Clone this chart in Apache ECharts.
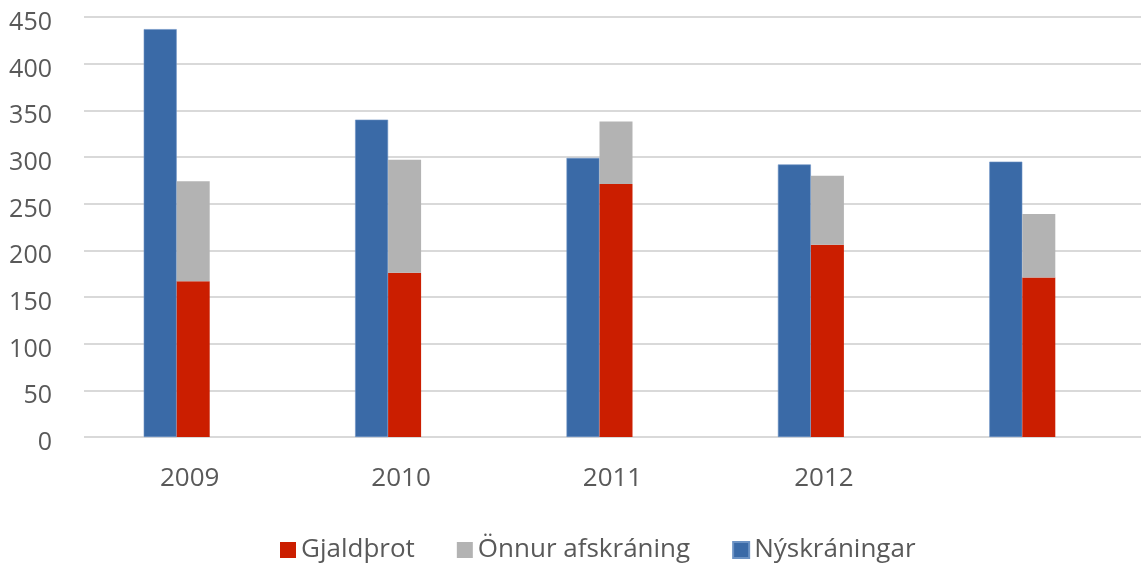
<!DOCTYPE html>
<html><head><meta charset="utf-8">
<script src="https://cdn.jsdelivr.net/npm/echarts@6/dist/echarts.min.js"></script>
<style>html,body{margin:0;padding:0;background:#fff}#c{width:1141px;height:565px}</style>
</head><body><div id="c"></div>
<script>
const categories = ['2009', '2010', '2011', '2012', ''];
const gjaldthrot = [167, 176, 271, 206, 171];
const onnur = [107, 121, 67, 74, 68];
const nyskraningar = [437, 340, 299, 292, 295];
const yTicks = [0, 50, 100, 150, 200, 250, 300, 350, 400, 450];

const chart = echarts.init(document.getElementById('c'));
const font = '"Open Sans", "Noto Sans", sans-serif';
chart.setOption({
  animation: false,
  textStyle: { fontFamily: font },
  grid: { left: 84, right: -6, top: 17, bottom: 128 },
  legend: {
    data: ['Gjaldþrot', 'Önnur afskráning', 'Nýskráningar'],
    bottom: -3, left: 275,
    itemWidth: 16, itemHeight: 16, itemGap: 42,
    icon: 'rect',
    textStyle: { fontSize: 26, color: '#595959', fontFamily: font }
  },
  xAxis: {
    type: 'category', data: categories,
    axisLine: { show: false }, axisTick: { show: false },
    axisLabel: { fontSize: 26, color: '#595959', margin: 29, fontFamily: font }
  },
  yAxis: {
    type: 'value', min: yTicks[0], max: yTicks[yTicks.length - 1], interval: 50,
    axisLine: { show: false }, axisTick: { show: false },
    axisLabel: {
      color: '#595959', margin: 32, fontFamily: font,
      formatter: '{a|{value}}',
      rich: { a: { fontSize: 25, color: '#595959', fontFamily: font, padding: [12, 0, 0, 0] } }
    },
    splitLine: { lineStyle: { color: '#d9d9d9', width: 2 } }
  },
  series: [
    { name: 'Nýskráningar', type: 'bar', stack: 'a', data: nyskraningar, barWidth: 33, barGap: 0,
      itemStyle: { color: '#3A6AA7', borderColor: '#6b92c4', borderWidth: 0.6 } },
    { name: 'Gjaldþrot', type: 'bar', stack: 'b', data: gjaldthrot, barWidth: 33, barGap: 0,
      itemStyle: { color: '#CB1E00' } },
    { name: 'Önnur afskráning', type: 'bar', stack: 'b', data: onnur, barWidth: 33, barGap: 0,
      itemStyle: { color: '#B3B3B3' } },
    { name: 'pad', type: 'bar', stack: 'c', data: categories.map(() => 0), barWidth: 26, barGap: 0,
      itemStyle: { color: 'transparent' }, silent: true }
  ]
});
</script></body></html>
